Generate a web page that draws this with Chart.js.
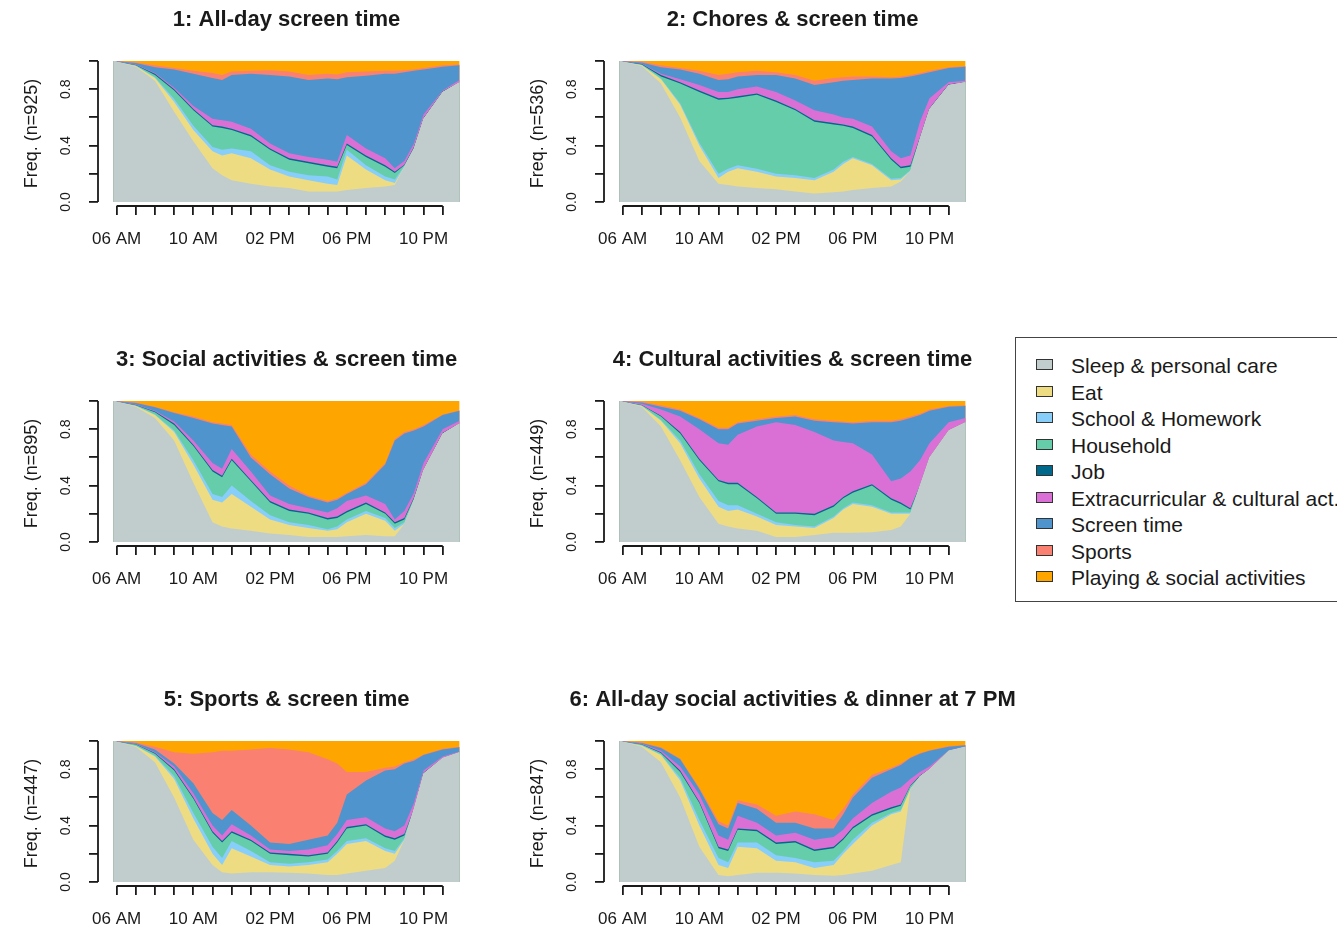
<!DOCTYPE html>
<html>
<head>
<meta charset="utf-8">
<title>Daily activity clusters</title>
<script src="https://cdn.jsdelivr.net/npm/chart.js@4.4.1/dist/chart.umd.min.js"></script>
<style>
  html, body { margin: 0; padding: 0; background: #fff; width: 1337px; height: 929px; overflow: hidden; }
  body { position: relative; font-family: 'Liberation Sans', Arial, sans-serif; }
  canvas.panel { position: absolute; }
  #legend { position: absolute; left: 1015px; top: 337px; width: 360px; height: 265px;
            border: 1px solid #444; box-sizing: border-box; }
  #legend .item { position: absolute; left: 0; height: 26px; white-space: nowrap; }
  #legend .sw { position: absolute; left: 20px; top: 6px; width: 15px; height: 9px; border: 1px solid #333; }
  #legend .tx { position: absolute; left: 55px; top: 0; font-size: 21px; line-height: 26px; color: #1a1a1a; }
</style>
</head>
<body>
<div id="legend"></div>
<script>
// Time grid (hours of the day) shared by every cluster
const hours = [5.84, 6, 7, 8, 9, 10, 11, 11.5, 12, 13, 14, 15, 16, 17, 17.5, 18, 19, 20, 20.5, 21, 21.5, 22, 23, 23.88];
const tickHours = [6, 7, 8, 9, 10, 11, 12, 13, 14, 15, 16, 17, 18, 19, 20, 21, 22, 23];
const labelHours = [6, 10, 14, 18, 22];
const labelTexts = ['06 AM', '10 AM', '02 PM', '06 PM', '10 PM'];
const yTicks = [0, 0.2, 0.4, 0.6, 0.8, 1];
const yTickLabels = ['0.0', '', '0.4', '', '0.8', ''];

const activities = ['Sleep & personal care', 'Eat', 'School & Homework', 'Household', 'Job',
  'Extracurricular & cultural act.', 'Screen time', 'Sports', 'Playing & social activities'];
const titles = ['1: All-day screen time', '2: Chores & screen time', '3: Social activities & screen time',
  '4: Cultural activities & screen time', '5: Sports & screen time', '6: All-day social activities & dinner at 7 PM'];
const groupSizes = [925, 536, 895, 449, 447, 847];

// Cumulative share reached at the top of each activity band (bottom-up order:
// sleep, eat, school, household, job, extracurricular, screen, sports).
// The last band (playing & social) always closes at 1.
const cluster1 = [
  [1, 0.995, 0.96, 0.86, 0.64, 0.43, 0.24, 0.19, 0.155, 0.13, 0.11, 0.10, 0.075, 0.075, 0.075, 0.085, 0.10, 0.11, 0.12, 0.25, 0.38, 0.59, 0.78, 0.85],
  [1, 0.995, 0.965, 0.88, 0.71, 0.51, 0.36, 0.33, 0.345, 0.31, 0.23, 0.18, 0.155, 0.13, 0.12, 0.33, 0.23, 0.155, 0.135, 0.25, 0.38, 0.59, 0.78, 0.85],
  [1, 0.995, 0.967, 0.885, 0.73, 0.54, 0.39, 0.37, 0.38, 0.36, 0.26, 0.215, 0.19, 0.18, 0.16, 0.37, 0.26, 0.18, 0.16, 0.255, 0.38, 0.59, 0.78, 0.85],
  [1, 0.995, 0.97, 0.90, 0.79, 0.65, 0.535, 0.525, 0.51, 0.465, 0.37, 0.30, 0.275, 0.25, 0.24, 0.405, 0.32, 0.25, 0.205, 0.26, 0.385, 0.59, 0.78, 0.85],
  [1, 0.995, 0.972, 0.91, 0.80, 0.66, 0.545, 0.535, 0.52, 0.475, 0.38, 0.31, 0.285, 0.26, 0.25, 0.415, 0.33, 0.26, 0.215, 0.265, 0.39, 0.595, 0.785, 0.85],
  [1, 0.996, 0.975, 0.915, 0.81, 0.68, 0.59, 0.58, 0.57, 0.52, 0.415, 0.345, 0.32, 0.30, 0.285, 0.475, 0.38, 0.31, 0.24, 0.29, 0.415, 0.62, 0.79, 0.865],
  [1, 0.998, 0.985, 0.955, 0.94, 0.91, 0.88, 0.865, 0.90, 0.91, 0.90, 0.89, 0.865, 0.875, 0.87, 0.885, 0.895, 0.91, 0.91, 0.92, 0.93, 0.94, 0.96, 0.97],
  [1, 1, 0.99, 0.97, 0.95, 0.93, 0.915, 0.90, 0.925, 0.93, 0.935, 0.925, 0.90, 0.91, 0.905, 0.92, 0.925, 0.93, 0.93, 0.935, 0.94, 0.95, 0.97, 0.975]
];
const cluster2 = [
  [1, 0.995, 0.965, 0.84, 0.60, 0.29, 0.13, 0.12, 0.11, 0.10, 0.09, 0.075, 0.06, 0.07, 0.075, 0.085, 0.10, 0.11, 0.145, 0.22, 0.45, 0.66, 0.83, 0.85],
  [1, 0.995, 0.97, 0.87, 0.69, 0.40, 0.17, 0.215, 0.24, 0.215, 0.18, 0.17, 0.155, 0.215, 0.27, 0.31, 0.26, 0.155, 0.16, 0.22, 0.45, 0.66, 0.83, 0.85],
  [1, 0.995, 0.972, 0.875, 0.70, 0.42, 0.20, 0.235, 0.26, 0.235, 0.20, 0.19, 0.17, 0.23, 0.285, 0.32, 0.27, 0.165, 0.17, 0.225, 0.45, 0.66, 0.83, 0.85],
  [1, 0.995, 0.975, 0.89, 0.84, 0.78, 0.725, 0.73, 0.74, 0.76, 0.71, 0.65, 0.57, 0.55, 0.54, 0.525, 0.465, 0.30, 0.24, 0.25, 0.455, 0.66, 0.83, 0.85],
  [1, 0.995, 0.978, 0.90, 0.85, 0.79, 0.735, 0.74, 0.75, 0.77, 0.72, 0.66, 0.58, 0.56, 0.55, 0.535, 0.475, 0.31, 0.25, 0.26, 0.46, 0.665, 0.835, 0.85],
  [1, 0.996, 0.98, 0.91, 0.87, 0.83, 0.78, 0.78, 0.80, 0.82, 0.78, 0.72, 0.65, 0.62, 0.60, 0.59, 0.535, 0.36, 0.31, 0.33, 0.57, 0.735, 0.85, 0.86],
  [1, 0.998, 0.99, 0.955, 0.94, 0.91, 0.865, 0.87, 0.89, 0.90, 0.90, 0.875, 0.83, 0.85, 0.86, 0.865, 0.875, 0.875, 0.88, 0.89, 0.905, 0.92, 0.95, 0.96],
  [1, 1, 0.995, 0.97, 0.95, 0.93, 0.90, 0.91, 0.92, 0.93, 0.92, 0.90, 0.86, 0.88, 0.885, 0.89, 0.89, 0.885, 0.89, 0.90, 0.915, 0.93, 0.955, 0.965]
];
const cluster3 = [
  [1, 0.995, 0.96, 0.88, 0.72, 0.42, 0.14, 0.11, 0.095, 0.08, 0.06, 0.05, 0.035, 0.035, 0.035, 0.04, 0.05, 0.04, 0.04, 0.13, 0.30, 0.51, 0.77, 0.84],
  [1, 0.995, 0.965, 0.90, 0.78, 0.55, 0.30, 0.28, 0.34, 0.25, 0.16, 0.12, 0.10, 0.08, 0.09, 0.14, 0.20, 0.15, 0.08, 0.13, 0.30, 0.51, 0.77, 0.84],
  [1, 0.995, 0.967, 0.905, 0.79, 0.58, 0.34, 0.32, 0.40, 0.29, 0.19, 0.14, 0.12, 0.09, 0.11, 0.16, 0.22, 0.17, 0.10, 0.14, 0.30, 0.51, 0.77, 0.84],
  [1, 0.995, 0.97, 0.92, 0.83, 0.68, 0.50, 0.46, 0.58, 0.43, 0.28, 0.22, 0.20, 0.16, 0.17, 0.21, 0.27, 0.20, 0.13, 0.16, 0.31, 0.51, 0.77, 0.84],
  [1, 0.995, 0.972, 0.925, 0.84, 0.69, 0.51, 0.47, 0.59, 0.44, 0.29, 0.23, 0.21, 0.17, 0.18, 0.22, 0.28, 0.21, 0.14, 0.17, 0.315, 0.515, 0.775, 0.84],
  [1, 0.996, 0.975, 0.93, 0.855, 0.72, 0.56, 0.52, 0.66, 0.50, 0.33, 0.27, 0.24, 0.21, 0.24, 0.29, 0.33, 0.27, 0.16, 0.22, 0.35, 0.56, 0.80, 0.86],
  [1, 0.998, 0.985, 0.955, 0.915, 0.88, 0.84, 0.83, 0.82, 0.60, 0.48, 0.38, 0.32, 0.28, 0.30, 0.34, 0.41, 0.55, 0.72, 0.77, 0.79, 0.82, 0.90, 0.93],
  [1, 1, 0.99, 0.96, 0.92, 0.89, 0.85, 0.84, 0.83, 0.62, 0.50, 0.40, 0.33, 0.29, 0.31, 0.35, 0.42, 0.56, 0.73, 0.78, 0.80, 0.83, 0.905, 0.935]
];
const cluster4 = [
  [1, 0.995, 0.96, 0.82, 0.58, 0.32, 0.13, 0.11, 0.095, 0.08, 0.035, 0.035, 0.05, 0.065, 0.065, 0.065, 0.07, 0.085, 0.11, 0.20, 0.40, 0.60, 0.79, 0.85],
  [1, 0.995, 0.965, 0.86, 0.70, 0.45, 0.25, 0.22, 0.23, 0.18, 0.12, 0.11, 0.10, 0.17, 0.23, 0.27, 0.25, 0.20, 0.20, 0.20, 0.40, 0.60, 0.79, 0.85],
  [1, 0.995, 0.967, 0.865, 0.72, 0.48, 0.29, 0.26, 0.26, 0.20, 0.14, 0.12, 0.11, 0.18, 0.24, 0.28, 0.26, 0.21, 0.21, 0.21, 0.40, 0.60, 0.79, 0.85],
  [1, 0.995, 0.97, 0.89, 0.77, 0.58, 0.43, 0.41, 0.41, 0.31, 0.20, 0.20, 0.19, 0.25, 0.31, 0.35, 0.40, 0.30, 0.27, 0.23, 0.40, 0.60, 0.79, 0.85],
  [1, 0.995, 0.972, 0.895, 0.78, 0.59, 0.44, 0.42, 0.42, 0.32, 0.21, 0.21, 0.20, 0.26, 0.32, 0.36, 0.41, 0.31, 0.28, 0.24, 0.40, 0.60, 0.79, 0.85],
  [1, 0.996, 0.98, 0.94, 0.89, 0.80, 0.70, 0.69, 0.76, 0.82, 0.85, 0.83, 0.78, 0.72, 0.71, 0.70, 0.62, 0.43, 0.45, 0.50, 0.58, 0.70, 0.85, 0.88],
  [1, 0.998, 0.99, 0.96, 0.93, 0.87, 0.80, 0.80, 0.84, 0.86, 0.88, 0.89, 0.86, 0.85, 0.845, 0.84, 0.85, 0.85, 0.86, 0.88, 0.90, 0.93, 0.96, 0.965],
  [1, 1, 0.995, 0.97, 0.94, 0.88, 0.81, 0.81, 0.85, 0.87, 0.89, 0.90, 0.87, 0.86, 0.855, 0.85, 0.86, 0.86, 0.87, 0.89, 0.91, 0.94, 0.965, 0.97]
];
const cluster5 = [
  [1, 0.995, 0.96, 0.85, 0.60, 0.30, 0.12, 0.07, 0.06, 0.07, 0.07, 0.065, 0.06, 0.05, 0.05, 0.06, 0.08, 0.10, 0.15, 0.30, 0.52, 0.77, 0.88, 0.92],
  [1, 0.995, 0.965, 0.89, 0.73, 0.45, 0.20, 0.12, 0.24, 0.18, 0.12, 0.11, 0.12, 0.14, 0.20, 0.27, 0.29, 0.22, 0.20, 0.30, 0.52, 0.77, 0.88, 0.92],
  [1, 0.995, 0.967, 0.895, 0.75, 0.49, 0.25, 0.17, 0.29, 0.22, 0.14, 0.13, 0.14, 0.16, 0.22, 0.29, 0.31, 0.24, 0.22, 0.31, 0.52, 0.77, 0.88, 0.92],
  [1, 0.995, 0.975, 0.91, 0.79, 0.59, 0.35, 0.28, 0.35, 0.29, 0.20, 0.19, 0.18, 0.20, 0.28, 0.38, 0.40, 0.32, 0.30, 0.33, 0.52, 0.77, 0.88, 0.92],
  [1, 0.995, 0.977, 0.915, 0.80, 0.60, 0.36, 0.29, 0.36, 0.30, 0.21, 0.20, 0.19, 0.21, 0.29, 0.39, 0.41, 0.33, 0.31, 0.34, 0.52, 0.775, 0.88, 0.92],
  [1, 0.996, 0.98, 0.92, 0.82, 0.63, 0.40, 0.33, 0.41, 0.33, 0.23, 0.22, 0.23, 0.26, 0.34, 0.44, 0.46, 0.38, 0.36, 0.40, 0.56, 0.79, 0.89, 0.925],
  [1, 0.998, 0.985, 0.94, 0.84, 0.70, 0.49, 0.44, 0.51, 0.40, 0.28, 0.27, 0.30, 0.33, 0.42, 0.62, 0.72, 0.79, 0.80, 0.84, 0.86, 0.90, 0.94, 0.955],
  [1, 1, 0.99, 0.96, 0.92, 0.91, 0.92, 0.93, 0.93, 0.94, 0.95, 0.94, 0.92, 0.87, 0.84, 0.78, 0.78, 0.81, 0.82, 0.85, 0.87, 0.905, 0.945, 0.96]
];
const cluster6 = [
  [1, 0.995, 0.96, 0.85, 0.60, 0.25, 0.05, 0.04, 0.05, 0.065, 0.065, 0.06, 0.05, 0.045, 0.05, 0.06, 0.08, 0.12, 0.14, 0.66, 0.75, 0.80, 0.93, 0.96],
  [1, 0.995, 0.967, 0.90, 0.72, 0.40, 0.12, 0.10, 0.25, 0.24, 0.15, 0.14, 0.10, 0.12, 0.20, 0.27, 0.40, 0.48, 0.50, 0.66, 0.75, 0.80, 0.93, 0.96],
  [1, 0.995, 0.97, 0.905, 0.74, 0.44, 0.17, 0.14, 0.28, 0.28, 0.19, 0.17, 0.14, 0.15, 0.22, 0.30, 0.42, 0.49, 0.51, 0.66, 0.75, 0.80, 0.93, 0.96],
  [1, 0.995, 0.975, 0.915, 0.78, 0.56, 0.24, 0.22, 0.37, 0.36, 0.27, 0.28, 0.22, 0.24, 0.30, 0.38, 0.47, 0.52, 0.54, 0.68, 0.75, 0.80, 0.93, 0.96],
  [1, 0.995, 0.977, 0.92, 0.79, 0.57, 0.25, 0.23, 0.38, 0.37, 0.28, 0.29, 0.23, 0.25, 0.31, 0.39, 0.48, 0.53, 0.55, 0.685, 0.755, 0.80, 0.93, 0.96],
  [1, 0.996, 0.98, 0.93, 0.82, 0.62, 0.33, 0.30, 0.47, 0.42, 0.33, 0.35, 0.30, 0.32, 0.37, 0.45, 0.56, 0.64, 0.67, 0.73, 0.78, 0.82, 0.935, 0.962],
  [1, 0.998, 0.985, 0.95, 0.87, 0.66, 0.41, 0.38, 0.56, 0.52, 0.42, 0.42, 0.38, 0.38, 0.48, 0.60, 0.74, 0.80, 0.83, 0.88, 0.91, 0.93, 0.96, 0.97],
  [1, 1, 0.99, 0.955, 0.875, 0.67, 0.43, 0.40, 0.58, 0.55, 0.47, 0.50, 0.48, 0.44, 0.52, 0.62, 0.76, 0.81, 0.84, 0.885, 0.915, 0.935, 0.965, 0.972]
];
const clusters = [cluster1, cluster2, cluster3, cluster4, cluster5, cluster6];

// Activity colours, same order as the activity list
const palette = ['#C1CDCD', '#EEDC82', '#87CEFA', '#66CDAA', '#00688B', '#DA70D6', '#4F94CD', '#FA8072', '#FFA500'];

const ink = '#1a1a1a';
const family = "'Liberation Sans', Arial, sans-serif";

// Axis lines spanning only the first to the last tick, base-graphics style
const axisLines = {
  id: 'axisLines',
  afterDraw(chart) {
    const { ctx, chartArea, scales } = chart;
    const xs = scales.x, ys = scales.y;
    ctx.save();
    ctx.strokeStyle = ink;
    ctx.lineWidth = 1.8;
    ctx.beginPath();
    ctx.moveTo(xs.getPixelForValue(tickHours[0]), chartArea.bottom);
    ctx.lineTo(xs.getPixelForValue(tickHours[tickHours.length - 1]), chartArea.bottom);
    ctx.moveTo(chartArea.left, ys.getPixelForValue(yTicks[0]));
    ctx.lineTo(chartArea.left, ys.getPixelForValue(yTicks[yTicks.length - 1]));
    ctx.stroke();
    ctx.restore();
  }
};

// Keep each panel title centred over the plotted time span
const centerTitle = {
  id: 'centerTitle',
  afterLayout(chart) {
    const tb = chart.titleBlock, xs = chart.scales.x;
    if (!tb || !xs) return;
    const mid = (xs.getPixelForValue(hours[0]) + xs.getPixelForValue(hours[hours.length - 1])) / 2;
    const half = (tb.right - tb.left) / 2;
    tb.left = mid - half;
    tb.right = mid + half;
  }
};

clusters.forEach((rows, p) => {
  const canvas = document.createElement('canvas');
  canvas.className = 'panel';
  canvas.width = 570;
  canvas.height = 262;
  canvas.style.left = ((p % 2) * 506) + 'px';
  canvas.style.top = (Math.floor(p / 2) * 340) + 'px';
  canvas.style.width = '570px';
  canvas.style.height = '262px';
  document.body.appendChild(canvas);

  const edges = rows.concat([hours.map(() => 1)]);

  new Chart(canvas, {
    type: 'line',
    data: {
      datasets: activities.map((name, k) => ({
        label: name,
        data: hours.map((h, i) => ({ x: h, y: edges[k][i] })),
        backgroundColor: palette[k],
        borderColor: 'rgba(0,0,0,0)',
        borderWidth: 0,
        pointRadius: 0,
        tension: 0,
        fill: 'origin'
      }))
    },
    options: {
      responsive: false,
      animation: false,
      events: [],
      layout: { padding: { left: 0, right: 110, top: 0, bottom: 0 } },
      plugins: {
        legend: { display: false },
        tooltip: { enabled: false },
        title: {
          display: true,
          text: titles[p],
          color: ink,
          font: { family, size: 22, weight: 'bold' },
          padding: { top: 7, bottom: 27.6 }
        }
      },
      scales: {
        x: {
          type: 'linear',
          min: 5.03,
          max: 23.9,
          afterBuildTicks: (s) => { s.ticks = tickHours.map(v => ({ value: v })); },
          afterFit: (s) => { s.height = 56; },
          ticks: {
            autoSkip: false, maxRotation: 0, minRotation: 0, padding: 14,
            color: ink, font: { family, size: 17 },
            callback: (v) => { const i = labelHours.indexOf(v); return i < 0 ? '' : labelTexts[i]; }
          },
          grid: { drawOnChartArea: false, drawTicks: true, tickLength: 9, color: ink, lineWidth: 1.8 },
          border: { display: false }
        },
        y: {
          type: 'linear',
          min: -0.0284,
          max: 1,
          afterBuildTicks: (s) => { s.ticks = yTicks.map(v => ({ value: v })); },
          afterFit: (s) => { s.width = 98; },
          ticks: {
            minRotation: 90, maxRotation: 90, crossAlign: 'center', padding: 13,
            color: ink, font: { family, size: 14 },
            callback: (v, i) => yTickLabels[i]
          },
          grid: { drawOnChartArea: false, drawTicks: true, tickLength: 9, color: ink, lineWidth: 1.8 },
          border: { display: false },
          title: {
            display: true,
            text: 'Freq. (n=' + groupSizes[p] + ')',
            color: ink,
            font: { family, size: 18 },
            padding: { top: 21, bottom: 0 }
          }
        }
      }
    },
    plugins: [axisLines, centerTitle]
  });
});

// Legend box listing every activity with its colour
const legend = document.getElementById('legend');
activities.forEach((name, k) => {
  const item = document.createElement('div');
  item.className = 'item';
  item.style.top = (15 + k * 26.5) + 'px';
  const sw = document.createElement('span');
  sw.className = 'sw';
  sw.style.background = palette[k];
  const tx = document.createElement('span');
  tx.className = 'tx';
  tx.textContent = name;
  item.appendChild(sw);
  item.appendChild(tx);
  legend.appendChild(item);
});
</script>
</body>
</html>
